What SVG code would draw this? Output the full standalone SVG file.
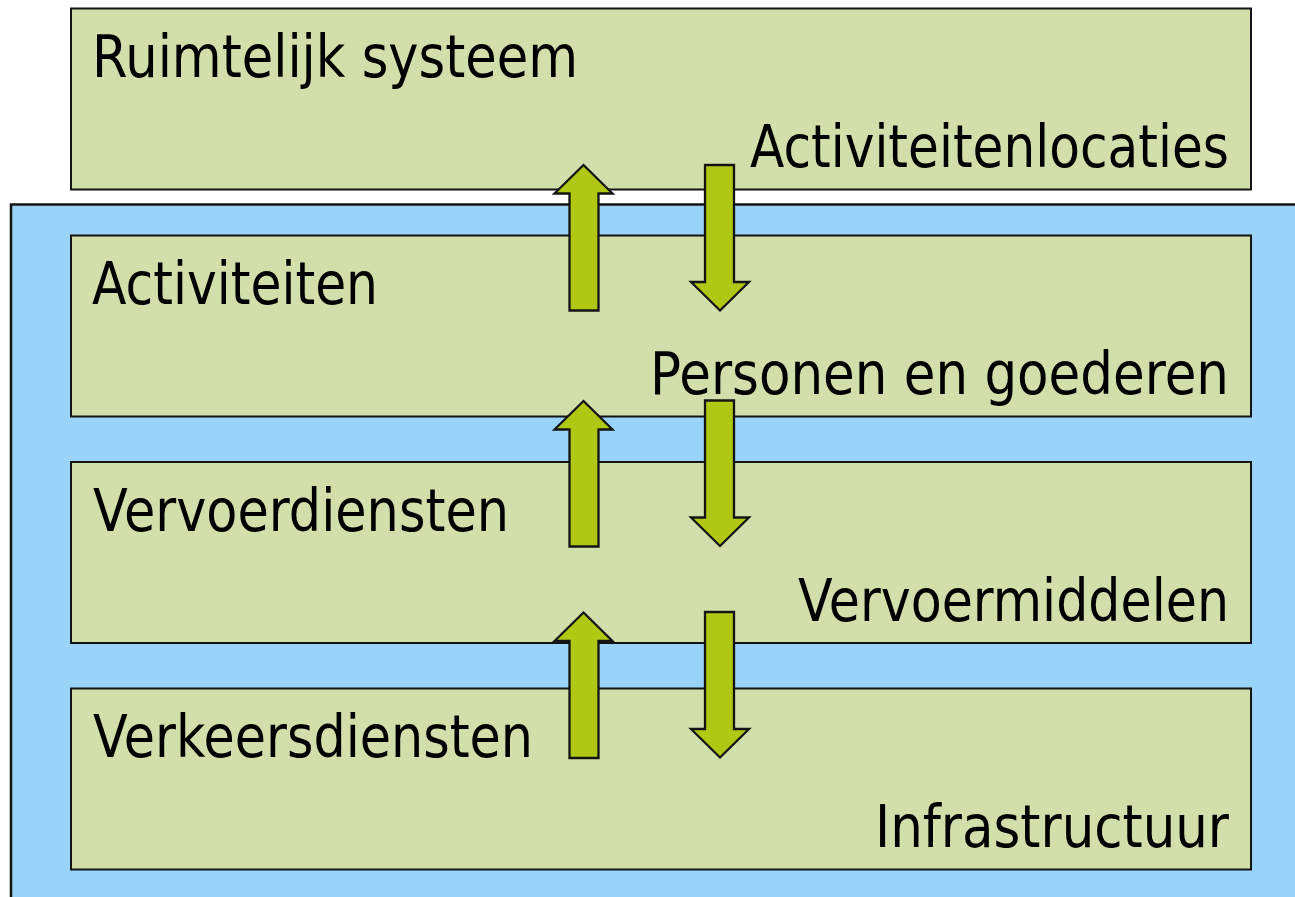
<svg xmlns="http://www.w3.org/2000/svg" xmlns:xlink="http://www.w3.org/1999/xlink" width="1295" height="897" viewBox="0 0 1295 897">
  <style>
    .layer { fill: #D3DFAB; stroke: #141414; stroke-width: 2; }
    .band { fill: #99D3F7; stroke: #141414; stroke-width: 2.5; }
    .arrow { fill: #AFC813; stroke: #141414; stroke-width: 2.3; stroke-linejoin: miter; }
    text { font-family: "DejaVu Sans", Verdana, sans-serif; font-size: 59px; fill: #000; }
  </style>
  <defs>
    <!-- block arrows, origin at the tip -->
    <path id="arrow-up" class="arrow" d="M0,0 L29,28.5 L15,28.5 L15,145.5 L-14,145.5 L-14,28.5 L-29,28.5 Z"/>
    <path id="arrow-down" class="arrow" d="M0,0 L29,-28.5 L14,-28.5 L14,-145.5 L-15,-145.5 L-15,-28.5 L-29,-28.5 Z"/>
  </defs>

  <rect width="1295" height="897" fill="#ffffff"/>

  <!-- transport system background band -->
  <rect class="band" x="11" y="204.5" width="1300" height="710"/>

  <g id="ruimtelijk-systeem">
    <rect class="layer" x="71" y="8.5" width="1180" height="181"/>
    <text x="92" y="77" textLength="486" lengthAdjust="spacingAndGlyphs">Ruimtelijk systeem</text>
    <text x="750" y="167" textLength="479" lengthAdjust="spacingAndGlyphs">Activiteitenlocaties</text>
  </g>

  <g id="activiteiten">
    <rect class="layer" x="71" y="235.5" width="1180" height="181"/>
    <text x="92" y="304" textLength="286" lengthAdjust="spacingAndGlyphs">Activiteiten</text>
    <text x="650" y="394" textLength="579" lengthAdjust="spacingAndGlyphs">Personen en goederen</text>
  </g>

  <g id="vervoerdiensten">
    <rect class="layer" x="71" y="462" width="1180" height="181"/>
    <text x="93" y="531" textLength="416" lengthAdjust="spacingAndGlyphs">Vervoerdiensten</text>
    <text x="798" y="621" textLength="431" lengthAdjust="spacingAndGlyphs">Vervoermiddelen</text>
  </g>

  <g id="verkeersdiensten">
    <rect class="layer" x="71" y="688.5" width="1180" height="181"/>
    <text x="93" y="757" textLength="440" lengthAdjust="spacingAndGlyphs">Verkeersdiensten</text>
    <text x="875" y="847" textLength="354" lengthAdjust="spacingAndGlyphs">Infrastructuur</text>
  </g>

  <g id="connectors">
    <use xlink:href="#arrow-up" x="583.5" y="165"/>
    <use xlink:href="#arrow-down" x="720" y="310.5"/>
    <use xlink:href="#arrow-up" x="583.5" y="401"/>
    <use xlink:href="#arrow-down" x="720" y="546"/>
    <use xlink:href="#arrow-up" x="583.5" y="612.5"/>
    <use xlink:href="#arrow-down" x="720" y="757.5"/>
  </g>
</svg>
